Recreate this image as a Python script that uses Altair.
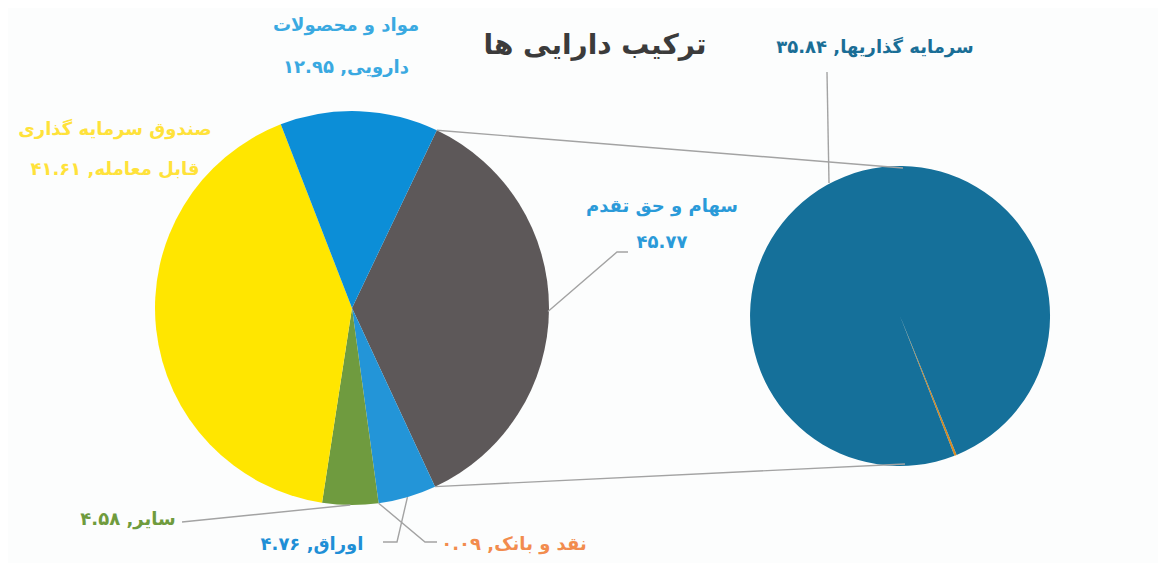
import math
import altair as alt
import pandas as pd

# ---------------- data ----------------
title_text = "ترکیب دارایی ها"

sub_names = ["نقد و بانک", "سرمایه گذاریها"]
sub_values = [0.09, 35.84]
sub_value_labels = ["۰.۰۹", "۳۵.۸۴"]

main_names = ["سهام و حق تقدم", "اوراق", "سایر",
              "صندوق سرمایه گذاری قابل معامله", "مواد و محصولات دارویی"]
main_values = [round(sum(sub_values), 2), 4.76, 4.58, 41.61, 12.95]
main_value_labels = ["۴۵.۷۷", "۴.۷۶", "۴.۵۸", "۴۱.۶۱", "۱۲.۹۵"]

# ---------------- styles / layout ----------------
W, H = 1150, 555
main_colors = ["#5d5859", "#2395d8", "#6f9b3f", "#ffe600", "#0c8ed7"]
sub_colors = ["#d98a1f", "#15709a"]
label_colors = {"سهام و حق تقدم": "#2a9ad9", "اوراق": "#1f8fd6", "سایر": "#6f9b3d",
                "صندوق سرمایه گذاری قابل معامله": "#ffe23a",
                "مواد و محصولات دارویی": "#3aa9e1", "نقد و بانک": "#f28c4e",
                "سرمایه گذاریها": "#1a6e96"}
MAIN_C, MAIN_R = (344, 300), 197
SUB_C, SUB_R = (892, 308), 150
main_start = math.radians(25.5)
sub_start = math.radians(157.8)
FONT = "DejaVu Sans"

xs = alt.Scale(domain=[0, W], range=[0, W], zero=False, nice=False)
ys = alt.Scale(domain=[0, H], range=[0, H], zero=False, nice=False)


def pt(center, r, ang):
    return (center[0] + r * math.sin(ang), center[1] - r * math.cos(ang))


tot_main = sum(main_values)
cum = [0]
for v in main_values:
    cum.append(cum[-1] + v)
ang_main = [main_start + 2 * math.pi * c / tot_main for c in cum]

# ---------------- pies ----------------
main_df = pd.DataFrame({"name": main_names, "value": main_values,
                        "idx": list(range(len(main_values))), "color": main_colors})
sub_df = pd.DataFrame({"name": sub_names, "value": sub_values,
                       "idx": list(range(len(sub_values))), "color": sub_colors})

main_pie = alt.Chart(main_df).mark_arc(radius=MAIN_R, x=MAIN_C[0], y=MAIN_C[1]).encode(
    theta=alt.Theta("value:Q", stack=True,
                    scale=alt.Scale(range=[main_start, main_start + 2 * math.pi])),
    order=alt.Order("idx:Q"),
    color=alt.Color("color:N", scale=None),
)
sub_pie = alt.Chart(sub_df).mark_arc(radius=SUB_R, x=SUB_C[0], y=SUB_C[1]).encode(
    theta=alt.Theta("value:Q", stack=True,
                    scale=alt.Scale(range=[sub_start, sub_start + 2 * math.pi])),
    order=alt.Order("idx:Q"),
    color=alt.Color("color:N", scale=None),
)

# ---------------- connector & leader lines ----------------
lines = []


def add_line(name, pts):
    for i, (x, y) in enumerate(pts):
        lines.append({"grp": name, "ord": i, "x": x, "y": y})


# pie-of-pie connectors
add_line("c_top", [pt(MAIN_C, MAIN_R, ang_main[0]), (SUB_C[0] + 3, SUB_C[1] - SUB_R + 2)])
add_line("c_bot", [pt(MAIN_C, MAIN_R, ang_main[1]), (SUB_C[0] + 5, SUB_C[1] + SUB_R - 2)])

mid = lambda i: (ang_main[i] + ang_main[i + 1]) / 2
add_line("l0", [(620, 244), (609, 244), pt(MAIN_C, MAIN_R - 1, math.radians(91))])
add_line("l1", [(375, 534), (389, 534), pt(MAIN_C, MAIN_R, mid(1))])
add_line("l2", [(174, 514), pt(MAIN_C, MAIN_R, mid(2))])
add_line("l5", [(429, 534), (417, 534), pt(MAIN_C, MAIN_R, ang_main[2])])
add_line("l6", [(819, 64), (821, 175)])

lines_df = pd.DataFrame(lines)
leader = alt.Chart(lines_df).mark_line(color="#a3a3a3", strokeWidth=1.4).encode(
    x=alt.X("x:Q", scale=xs, axis=None),
    y=alt.Y("y:Q", scale=ys, axis=None),
    detail="grp:N",
    order="ord:Q",
)

# ---------------- labels ----------------
label_pos = [
    ("مواد و محصولات", "مواد و محصولات دارویی", 338, 18),
    ("دارویی, " + main_value_labels[4], "مواد و محصولات دارویی", 338, 60),
    ("صندوق سرمایه گذاری", "صندوق سرمایه گذاری قابل معامله", 107, 122),
    ("قابل معامله, " + main_value_labels[3], "صندوق سرمایه گذاری قابل معامله", 107, 162),
    ("سهام و حق تقدم", "سهام و حق تقدم", 654, 199),
    (main_value_labels[0], "سهام و حق تقدم", 654, 235),
    (sub_names[1] + ", " + sub_value_labels[1], "سرمایه گذاریها", 867, 40),
    (main_names[2] + ", " + main_value_labels[2], "سایر", 120, 512),
    (main_names[1] + ", " + main_value_labels[1], "اوراق", 304, 537),
    (sub_names[0] + ", " + sub_value_labels[0], "نقد و بانک", 506, 537),
]
labels_df = pd.DataFrame([{"text": t, "x": x, "y": y, "color": label_colors[k]}
                          for t, k, x, y in label_pos])
labels = alt.Chart(labels_df).mark_text(font=FONT, fontSize=18, fontWeight="bold",
                                        align="center", baseline="middle").encode(
    x=alt.X("x:Q", scale=xs, axis=None),
    y=alt.Y("y:Q", scale=ys, axis=None),
    text="text:N",
    color=alt.Color("color:N", scale=None),
)

title_df = pd.DataFrame([{"text": title_text, "x": 587, "y": 38}])
title = alt.Chart(title_df).mark_text(font=FONT, fontSize=28, fontWeight="bold",
                                      color="#3b3b3b", align="center",
                                      baseline="middle").encode(
    x=alt.X("x:Q", scale=xs, axis=None),
    y=alt.Y("y:Q", scale=ys, axis=None),
    text="text:N",
)

chart = alt.layer(main_pie, sub_pie, leader, labels, title).resolve_scale(
    theta="independent"
).properties(
    width=W, height=H, padding=0,
    autosize=alt.AutoSizeParams(type="none"),
    background="#fcfdfd",
).configure_view(stroke=None)

chart.save("out.html", embed_options={"renderer": "svg", "actions": False})
